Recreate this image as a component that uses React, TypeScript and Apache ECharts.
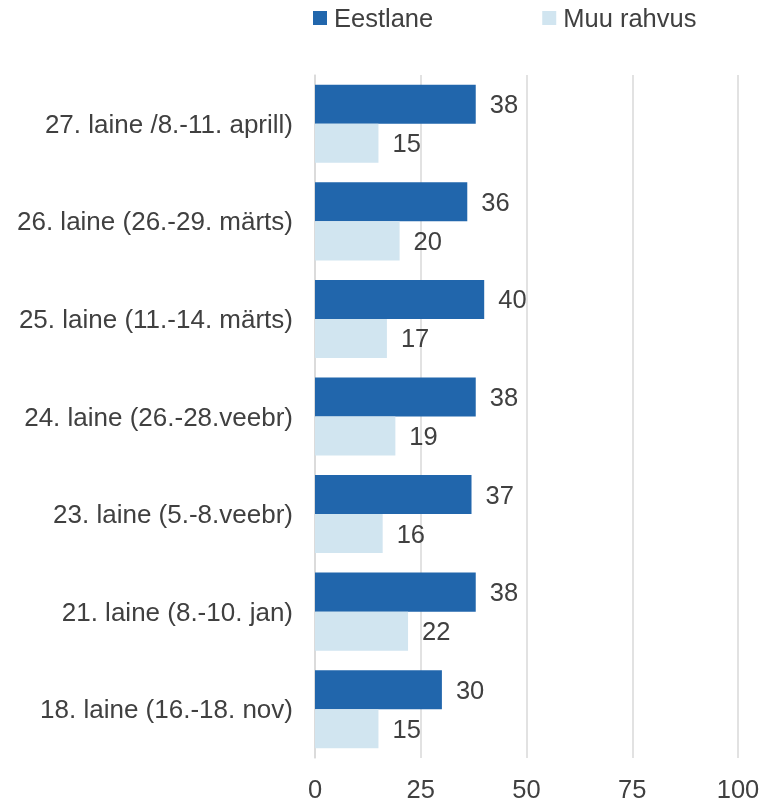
import React, { useEffect, useRef } from "react";
import * as echarts from "echarts";

const categories = [
  "27. laine /8.-11. aprill)",
  "26. laine (26.-29. märts)",
  "25. laine (11.-14. märts)",
  "24. laine (26.-28.veebr)",
  "23. laine (5.-8.veebr)",
  "21. laine (8.-10. jan)",
  "18. laine (16.-18. nov)",
];
const eestlane = [38, 36, 40, 38, 37, 38, 30];
const muuRahvus = [15, 20, 17, 19, 16, 22, 15];
const seriesNames = ["Eestlane", "Muu rahvus"];

const FONT = "Liberation Sans, Arial, sans-serif";
const TEXT = "#404040";
const FS = 25.5;

export default function App() {
  const ref = useRef<HTMLDivElement>(null);
  useEffect(() => {
    const chart = echarts.init(ref.current!, null, { renderer: "svg" });
    const label = {
      show: true,
      position: "right" as const,
      distance: 14,
      color: TEXT,
      fontSize: FS,
      fontFamily: FONT,
    };
    chart.setOption({
      animation: false,
      textStyle: { fontFamily: FONT },
      legend: {
        left: 308,
        top: 0,
        itemWidth: 14,
        itemHeight: 14,
        itemGap: 109,
        icon: "rect",
        textStyle: { color: TEXT, fontSize: FS, fontFamily: FONT, padding: [0, 0, 0, 2] },
        data: seriesNames,
      },
      grid: { left: 315, right: 40, top: 75, bottom: 45, containLabel: false },
      xAxis: {
        type: "value",
        min: 0,
        max: 100,
        interval: 25,
        axisLine: { show: false },
        axisTick: { show: false },
        splitLine: { lineStyle: { color: "#d9d9d9", width: 1.5 } },
        axisLabel: { color: TEXT, fontSize: FS, fontFamily: FONT, margin: 18 },
      },
      yAxis: {
        type: "category",
        inverse: true,
        data: categories,
        axisLine: { show: true, lineStyle: { color: "#d9d9d9", width: 1.5 } },
        axisTick: { show: false },
        axisLabel: { color: TEXT, fontSize: 26, fontFamily: FONT, margin: 22 },
      },
      series: [
        {
          name: seriesNames[0],
          type: "bar",
          data: eestlane,
          itemStyle: { color: "#2166ac" },
          barGap: "0%",
          barCategoryGap: "20%",
          label,
        },
        {
          name: seriesNames[1],
          type: "bar",
          data: muuRahvus,
          itemStyle: { color: "#d1e5f0" },
          barGap: "0%",
          barCategoryGap: "20%",
          label,
        },
      ],
    });
    return () => chart.dispose();
  }, []);
  return (
    <div
      ref={ref}
      style={{ position: "fixed", left: 0, top: 0, width: 778, height: 803 }}
    />
  );
}
